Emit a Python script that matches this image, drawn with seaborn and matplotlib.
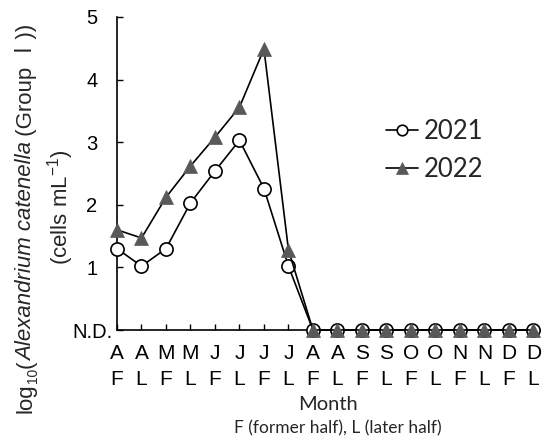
import matplotlib
matplotlib.use("Agg")
import matplotlib.pyplot as plt
from matplotlib.transforms import IdentityTransform
import seaborn as sns
import numpy as np
import pandas as pd

# ---- data ----
month_letters = ["A", "A", "M", "M", "J", "J", "J", "J", "A", "A",
                 "S", "S", "O", "O", "N", "N", "D", "D"]
halves = ["F", "L"] * 9
values_2021 = [1.30, 1.02, 1.30, 2.03, 2.54, 3.03, 2.26, 1.02,
               0, 0, 0, 0, 0, 0, 0, 0, 0, 0]
values_2022 = [1.60, 1.47, 2.12, 2.62, 3.08, 3.56, 4.49, 1.28,
               0, 0, 0, 0, 0, 0, 0, 0, 0, 0]
series_names = ["2021", "2022"]
y_ticks = [0, 1, 2, 3, 4, 5]
y_tick_labels = ["N.D.", "1", "2", "3", "4", "5"]

tick_labels = [f"{m}\n{h}" for m, h in zip(month_letters, halves)]
pos = np.arange(len(month_letters))

sns.set_style("ticks")
plt.rcParams["font.family"] = ["Liberation Sans", "Noto Sans CJK JP", "DejaVu Sans"]
plt.rcParams["mathtext.fontset"] = "custom"
plt.rcParams["mathtext.rm"] = "Liberation Sans"
plt.rcParams["mathtext.it"] = "Liberation Sans:italic"

W, H = 553, 443
fig = plt.figure(figsize=(W / 100, H / 100), dpi=100)
ax = fig.add_axes([117 / W, 113 / H, 423 / W, 313 / H])

df = pd.DataFrame({"pos": pos, series_names[0]: values_2021, series_names[1]: values_2022})

sns.lineplot(data=df, x="pos", y=series_names[0], ax=ax, color="black", lw=1.2,
             marker="o", markersize=9.5, markerfacecolor="white",
             markeredgecolor="black", markeredgewidth=1.2, label=series_names[0],
             clip_on=False, zorder=3)
sns.lineplot(data=df, x="pos", y=series_names[1], ax=ax, color="black", lw=1.2,
             marker="^", markersize=10.5, markerfacecolor="#595959",
             markeredgecolor="#595959", markeredgewidth=0.5, label=series_names[1],
             clip_on=False, zorder=4)

ax.set_xlim(0, 17.27)
ax.set_ylim(0, 5)
ax.set_xticks(pos)
ax.set_xticklabels(tick_labels, fontsize=15, linespacing=1.5)
ax.set_yticks(y_ticks)
ax.set_yticklabels(y_tick_labels, fontsize=14.5, ha="center")
ax.tick_params(axis="x", direction="in", length=4, width=1, pad=10, colors="black")
ax.tick_params(axis="y", direction="in", length=4, width=1, pad=18, colors="black")
sns.despine(ax=ax)
for s in ["left", "bottom"]:
    ax.spines[s].set_linewidth(1.2)
    ax.spines[s].set_color("black")
ax.set_xlabel("")
ax.set_ylabel("")

leg = ax.legend(loc="upper left", bbox_to_anchor=((386 - 117) / 423, (313 - (119 - 17)) / 313),
                frameon=False, prop={"family": "Lato", "size": 18.5},
                handlelength=1.25, handletextpad=0.2, labelspacing=0.5,
                markerscale=0.8, borderaxespad=0, borderpad=0)

fig.text(328 / W, 1 - 404 / H, "Month", family="Lato", fontsize=14.5,
         ha="center", va="center")
fig.text(338 / W, 1 - 428 / H, "F (former half), L (later half)", family="Lato",
         fontsize=12.5, ha="center", va="center")

# y-axis label, composed piecewise so the italic name, subscript and Roman numeral render
renderer = fig.canvas.get_renderer()
ylab_size = 16
base_x = 32
pieces = [("log", {}, 0),
          ("10", {"fontsize": ylab_size * 0.62}, 5),
          ("(", {}, 0),
          ("Alexandrium catenella", {"style": "italic"}, 0),
          (" (Group Ⅰ))", {}, 0)]
y_run = H - 413
for txt, kw, shift in pieces:
    props = {"fontsize": ylab_size}
    props.update(kw)
    t = fig.text(base_x + shift, y_run, txt, transform=IdentityTransform(), rotation=90,
                 rotation_mode="anchor", ha="left", va="baseline", **props)
    y_run += t.get_window_extent(renderer).height
fig.text(67, H - 207, "(cells mL$^{-1}$)", transform=IdentityTransform(), rotation=90,
         rotation_mode="anchor", ha="center", va="baseline", fontsize=ylab_size)

fig.savefig("out.png", dpi=100)
